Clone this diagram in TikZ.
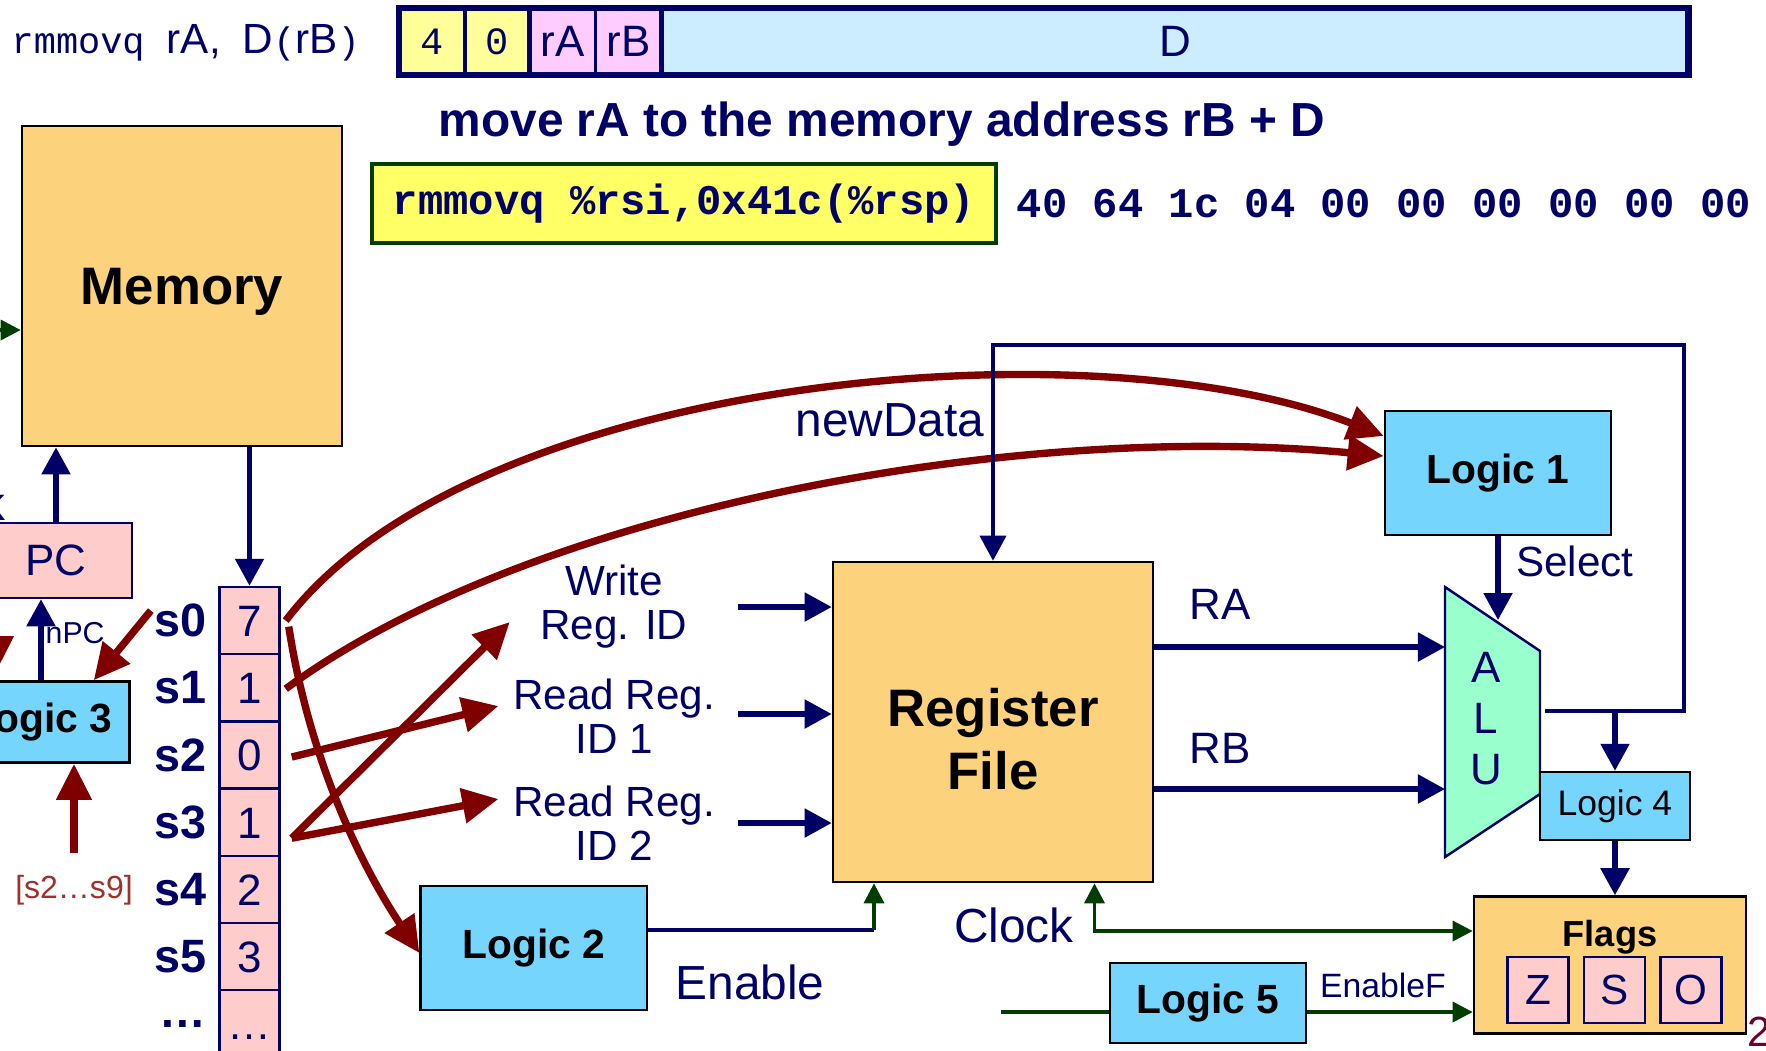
\documentclass[tikz,border=0pt]{standalone}
\usepackage{fontspec}
\setmainfont{Liberation Sans}
\setmonofont{Liberation Mono}
\usepackage{xcolor}
\definecolor{navy}{HTML}{000066}
\definecolor{wirered}{HTML}{800000}
\definecolor{wiregreen}{HTML}{003D00}
\definecolor{unitfill}{HTML}{FDD27C}
\definecolor{logicfill}{HTML}{76D5FD}
\definecolor{regpink}{HTML}{FFCCCC}
\definecolor{alufill}{HTML}{99FFCC}
\definecolor{instrfill}{HTML}{FFFF66}
\definecolor{opfill}{HTML}{FFFF99}
\definecolor{regidfill}{HTML}{FFCCFF}
\definecolor{dispfill}{HTML}{CCECFF}
\definecolor{rangecolor}{HTML}{A0302A}
\definecolor{pagenumcolor}{HTML}{6B0033}
\usepackage{tikz}
\usetikzlibrary{positioning,arrows.meta,calc}
\newcommand{\setfs}[2]{\fontsize{#1}{#2}\selectfont}
\tikzset{
    unitbox/.style={
        rectangle,
        draw=black,
        fill=unitfill,
        text=black,
        minimum width=3.2cm,
        minimum height=3.2cm,
        align=center,
        inner sep=0pt,
        line width=0.7pt,
        font=\bfseries\setfs{15}{18},
    },
    logicbox/.style={
        rectangle,
        draw=black,
        fill=logicfill,
        text=black,
        minimum width=2.26cm,
        minimum height=1.24cm,
        inner sep=0pt,
        line width=0.7pt,
        font=\bfseries\setfs{11.6}{14},
    },
    regcell/.style={
        rectangle,
        draw=navy,
        fill=regpink,
        text=navy,
        inner sep=0pt,
        line width=0.7pt,
        font=\setfs{12.5}{14},
    },
    stackcell/.style={
        regcell,
        minimum width=0.6cm,
        minimum height=0.672cm,
        text height=9pt,
        text depth=0pt,
    },
    fmtcell/.style={
        rectangle,
        draw=navy,
        text=navy,
        minimum height=0.65cm,
        inner sep=0pt,
        line width=0.5pt,
        font=\setfs{12.5}{14},
    },
    fmtframe/.style={
        draw=navy,
        line width=1.9pt,
    },
    fmtdiv/.style={
        draw=navy,
        line width=1.5pt,
    },
    bus/.style={
        ->,
        >={Triangle[length=2.7mm,width=2.8mm]},
        line width=1.5pt,
        draw=navy,
    },
    thinbus/.style={
        >={Triangle[length=2.5mm,width=2.6mm]},
        line width=1pt,
        draw=navy,
    },
    ctrl/.style={
        ->,
        >={Triangle[length=3.6mm,width=3.4mm]},
        line width=2.1pt,
        draw=wirered,
    },
    clk/.style={
        >={Triangle[length=2mm,width=2mm]},
        line width=1pt,
        draw=wiregreen,
    },
    wirelabel/.style={
        text=navy,
        inner sep=0pt,
        font=\setfs{13.6}{16},
    },
    portlabel/.style={
        text=navy,
        align=center,
        inner sep=0pt,
        font=\setfs{12}{12.5},
    },
    stacklabel/.style={
        text=navy,
        inner sep=0pt,
        font=\bfseries\setfs{13.3}{15},
    },
}

\begin{document}
\begin{tikzpicture}[x=0.01cm,y=-0.01cm]
    \useasboundingbox (0,0) rectangle (1766,1050);

    % instruction format
    \node[anchor=west, text=navy, inner sep=0pt, font=\setfs{12}{14}] (syntax) at (11,43)
        {{\ttfamily\setfs{10.5}{12}rmmovq }rA,{\ttfamily\setfs{10.5}{12}\ }D{\ttfamily\setfs{10.5}{12}(}rB{\ttfamily\setfs{10.5}{12})}};
    \node[fmtcell, fill=opfill, minimum width=0.64cm, font=\ttfamily\setfs{11}{13}] (icode) at (432,41.5) {4};
    \node[fmtcell, fill=opfill, minimum width=0.63cm, font=\ttfamily\setfs{11}{13}, right=0pt of icode] (ifun) {0};
    \node[fmtcell, fill=regidfill, minimum width=0.64cm, right=0pt of ifun] (rafld) {rA};
    \node[fmtcell, fill=regidfill, minimum width=0.64cm, right=0pt of rafld] (rbfld) {rB};
    \node[fmtcell, fill=dispfill, minimum width=10.25cm, right=0pt of rbfld] (dfld) {D};
    \draw[fmtframe] (icode.north west) rectangle (dfld.south east);
    \draw[fmtdiv] (rafld.north west) -- (rafld.south west);
    \draw[fmtdiv] (dfld.north west) -- (dfld.south west);

    \node[text=navy, inner sep=0pt, font=\bfseries\setfs{13.6}{16}] (title) at (882,124)
        {move rA to the memory address rB + D};
    \node[draw=wiregreen, line width=1.1pt, fill=instrfill, text=navy, minimum width=6.24cm,
          minimum height=0.79cm, inner sep=0pt, font=\ttfamily\bfseries\setfs{12}{14}] (instr) at (684,203.5)
        {rmmovq \%rsi,0x41c(\%rsp)};
    \node[text=navy, inner sep=0pt, font=\ttfamily\bfseries\setfs{12}{14}, right=0.18cm of instr] (bytes)
        {40 64 1c 04 00 00 00 00 00 00};

    % fetch side
    \node[unitbox] (mem) at (182,286) {};
    \node[inner sep=0pt, font=\bfseries\setfs{15}{18}] (memlbl) at ($(mem.center)+(0,6)$) {Memory};
    \coordinate (memin) at (-10,330);
    \draw[clk,->] (memin) -- (memin -| mem.west);
    \node[regcell, minimum width=1.52cm, minimum height=0.75cm] (pc) at (56,560.5) {PC};
    \node[wirelabel, anchor=base east] (pcclock) at (6,520) {Clock};
    \draw[bus] (pc.north) -- (pc.north |- mem.south);
    \node[logicbox, minimum width=1.77cm, minimum height=0.81cm] (l3) at (41,722) {Logic 3};
    \draw[bus] (l3.north) -- (l3.north |- pc.south);
    \node[text=navy, inner sep=0pt, font=\setfs{8.6}{10}, anchor=west] (npc) at (45,633) {nPC};
    \node[text=rangecolor, inner sep=1pt, font=\setfs{9.1}{11}] (range) at (74,890) {[s2…s9]};
    \draw[ctrl] ([yshift=0.18cm]range.north) -- (range.north |- l3.south);
    \coordinate (l3in) at (-4,590);
    \draw[ctrl] (l3in) -- (-4,672);

    % stack of register ids
    \foreach \v [count=\i from 0] in {7,1,0,1,2,3,…}
        \node[stackcell] (c\i) at (249.5,620.6+67.2*\i) {\v};
    \foreach \s [count=\i from 0] in {s0,s1,s2,s3,s4,s5,…}
        \node[stacklabel, left=0.11cm of c\i] (lb\i) {\s};
    \draw[bus] (c0.north |- mem.south) -- (c0.north);
    \draw[ctrl] ([xshift=-0.03cm,yshift=0.1cm]lb0.west) -- ([xshift=-0.37cm]l3.north east);

    % register file
    \node[unitbox] (rf) at (993,722) {};
    \node[inner sep=0pt, align=center, font=\bfseries\setfs{15}{18}] (rflbl) at ($(rf.center)+(0,17)$) {Register\\File};
    \node[portlabel] (wrid) at (614,607) {Write\\Reg. ID};
    \node[portlabel] (rr1) at (614,716) {Read Reg.\\ID 1};
    \node[portlabel] (rr2) at (614,823) {Read Reg.\\ID 2};
    \foreach \p/\y in {wrin/607, ra1in/714, ra2in/823} {
        \coordinate (\p) at (738,\y);
        \draw[bus] (\p) -- (\p -| rf.west);
    }

    \node[logicbox] (l1) at (1498,473) {Logic 1};
    \node[logicbox] (l2) at (533.7,948) {Logic 2};

    % register ids out of the stack
    \draw[ctrl] ([xshift=0.05cm]c0.east) .. controls +(186,-245) and +(-293,-115) .. ([yshift=0.37cm]l1.west);
    \draw[ctrl] ([xshift=0.05cm,yshift=-0.01cm]c1.east) .. controls +(236,-174) and +(-383,-36) .. ([yshift=0.17cm]l1.west);
    \draw[ctrl] ([xshift=0.08cm,yshift=-0.06cm]c0.east) .. controls +(20,130) and +(-60,-90) .. ([yshift=-0.05cm]l2.west);
    \draw[ctrl] ([xshift=0.11cm,yshift=-0.02cm]c2.east) -- ([xshift=-0.14cm,yshift=0.1cm]rr1.west);
    \draw[ctrl] ([xshift=0.11cm,yshift=-0.16cm]c3.east) -- ([xshift=-0.14cm,yshift=0.24cm]rr2.west);
    \draw[ctrl] ([xshift=0.11cm,yshift=-0.16cm]c3.east) -- ([xshift=-0.3cm,yshift=-0.15cm]wrid.west);

    \node[wirelabel] (newdata) at (890,420) {newData};

    % enable and clock
    \coordinate (encorner) at (874,930);
    \draw[thinbus] (l2.east |- encorner) -- (encorner);
    \draw[clk,->] (encorner) -- (encorner |- rf.south);
    \node[wirelabel] (enlbl) at (750,982) {Enable};

    % ALU
    \coordinate (alutl) at (1445,587);
    \coordinate (alutr) at (1540,651);
    \coordinate (alubr) at (1540,794);
    \coordinate (alubl) at (1445,857);
    \draw[draw=navy, fill=alufill, line width=0.7pt] (alutl) -- (alutr) -- (alubr) -- (alubl) -- cycle;
    \node[text=navy, align=center, inner sep=0pt, font=\setfs{12.5}{14.5}] (alu) at (1486,719) {A\\L\\U};
    \coordinate (rain) at (1445,647);
    \coordinate (rbin) at (1445,789);
    \draw[bus] (rain -| rf.east) -- (rain);
    \draw[bus] (rbin -| rf.east) -- (rbin);
    \node[wirelabel, font=\setfs{12.5}{14}] (ralbl) at (1220,604) {RA};
    \node[wirelabel, font=\setfs{12.5}{14}] (rblbl) at (1220,748) {RB};
    \coordinate (selin) at (1498,620);
    \draw[bus] (l1.south) -- (selin);
    \node[wirelabel, font=\setfs{12}{14}] (sellbl) at (1575,561) {Select};

    % flags
    \node[logicbox, minimum width=1.5cm, minimum height=0.68cm, font=\setfs{10.1}{12}] (l4) at (1615,806) {Logic 4};
    \coordinate (aluout) at (1545,711);
    \coordinate (looptop) at (1684,345);
    \draw[thinbus,->] (aluout) -| (looptop) -| (rf.north);
    \draw[bus] (l4.north |- aluout) -- (l4.north);
    \node[unitbox, minimum width=2.72cm, minimum height=1.37cm] (flags) at (1610,965) {};
    \node[inner sep=0pt, font=\bfseries\setfs{10.3}{12}] (flagslbl) at (1610,937) {Flags};
    \foreach \f [count=\i from 0] in {Z,S,O}
        \node[regcell, minimum width=0.61cm, minimum height=0.66cm, font=\setfs{12}{14}] (fb\i) at (1538+76.5*\i,990) {\f};
    \draw[bus] (l4.south) -- (l4.south |- flags.north);

    \coordinate (clkcorner) at (1094.5,931);
    \draw[clk,<->] (clkcorner |- rf.south) -- (clkcorner) -- (clkcorner -| flags.west);
    \node[wirelabel] (clklbl) at (1014,925) {Clock};

    \node[logicbox, minimum width=1.96cm, minimum height=0.8cm] (l5) at (1208,1003) {Logic 5};
    \coordinate (l5in) at (1001,1012);
    \draw[clk] (l5in) -- (l5in -| l5.west);
    \draw[clk,->] (l5in -| l5.east) -- (l5in -| flags.west);
    \node[wirelabel, font=\setfs{9.6}{11}] (enflbl) at (1383,985) {EnableF};

    \node[anchor=base west, inner sep=0pt, text=pagenumcolor, font=\setfs{12}{14}] (pgno) at (1747,1046) {20};
\end{tikzpicture}
\end{document}
